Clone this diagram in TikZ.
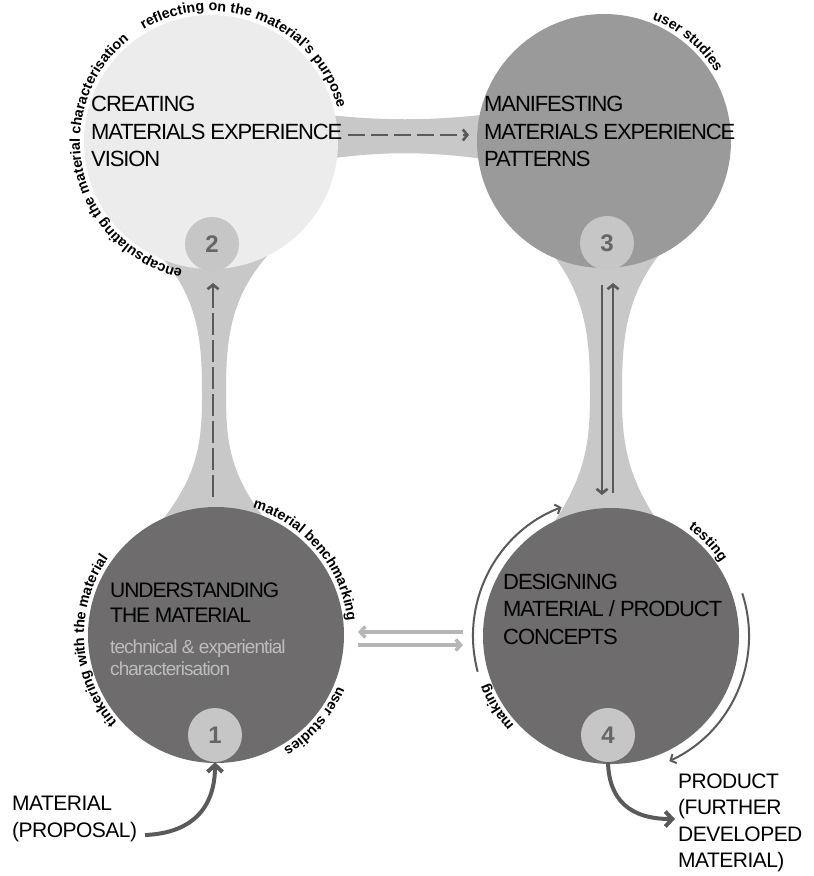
\documentclass[tikz,border=0pt]{standalone}
\usepackage{fontspec}
\setmainfont{Liberation Sans}
\newfontfamily\ttlfont[LetterSpace=-5]{Liberation Sans}
\newfontfamily\lblfont[LetterSpace=-2.5]{Liberation Sans}
\usetikzlibrary{arrows.meta,decorations.text}
\definecolor{neckc}{HTML}{C8C8C8}
\definecolor{lightc}{HTML}{ECECEC}
\definecolor{midc}{HTML}{9A9A9A}
\definecolor{darkc}{HTML}{6E6C6C}
\definecolor{numfill}{HTML}{C6C6C6}
\definecolor{numtext}{HTML}{666666}
\definecolor{arrowc}{HTML}{5A5A5A}
\definecolor{lightarr}{HTML}{B6B6B6}
\definecolor{subtext}{HTML}{BDBDBD}
\newcommand\cvfont{\fontsize{14.3}{15}\selectfont\bfseries}
\begin{document}
\begin{tikzpicture}[x=1pt,y=-1pt,
  bigc/.style={circle, inner sep=0pt, draw=none},
  numc/.style={circle, inner sep=0pt, minimum size=54pt, fill=numfill, text=numtext, font=\fontsize{24}{24}\selectfont\bfseries},
  ttl/.style={anchor=west, align=left, inner sep=0pt, text=black, font=\ttlfont\fontsize{22}{27.5}\selectfont},
  sub/.style={anchor=west, align=left, inner sep=0pt, text=subtext, font=\ttlfont\fontsize{19}{21.5}\selectfont},
  lbl/.style={anchor=west, align=left, inner sep=0pt, text=black, font=\lblfont\fontsize{21}{26.5}\selectfont},
  curved/.style={decorate, decoration={text along path, text align=center, text={|\cvfont|#1}}},
  darr/.style={draw=arrowc, line width=2.6pt, -{Straight Barb[length=4.5pt,width=11pt]}},
  thinarc/.style={draw=arrowc, line width=2pt, -{Straight Barb[length=4.5pt,width=10pt]}},
  thickarr/.style={draw=arrowc, line width=4pt, -{Straight Barb[length=7pt,width=15pt]}},
  grayarr/.style={draw=lightarr, line width=3.4pt, -{Straight Barb[length=5pt,width=11pt]}}
]
\fill[white] (0,0) rectangle (814,876);
\useasboundingbox (0,0) rectangle (814,876);

% necks
\fill[neckc] (160,255) .. controls (200,300) and (202,345) .. (202,395)
  .. controls (202,445) and (198,480) .. (150,535) -- (278,535)
  .. controls (230,480) and (226,445) .. (226,395)
  .. controls (226,345) and (228,300) .. (268,255) -- cycle;
\fill[neckc] (553,255) .. controls (588,300) and (590,345) .. (590,395)
  .. controls (590,445) and (585,480) .. (545,535) -- (667,535)
  .. controls (627,480) and (622,445) .. (622,395)
  .. controls (622,345) and (624,300) .. (659,255) -- cycle;
\fill[neckc] (320,114) .. controls (380,121) and (430,121) .. (490,114)
  -- (490,160) .. controls (430,151) and (380,151) .. (320,160) -- cycle;

% main circles
\node[bigc, fill=lightc, minimum size=254pt] (c2) at (211,142) {};
\node[bigc, fill=midc, minimum size=254pt] (c3) at (604,141) {};
\node[bigc, fill=darkc, minimum size=256pt] (c1) at (216,635) {};
\node[bigc, fill=darkc, minimum size=256pt] (c4) at (611,636) {};

% number circles
\node[numc] (n2) at (212,244) {2};
\node[numc] (n3) at (607,243) {3};
\node[numc] (n1) at (215,735) {1};
\node[numc] (n4) at (608,735) {4};

% titles
\node[ttl] (t2) at (91,131.5) {CREATING\\MATERIALS EXPERIENCE\\VISION};
\node[ttl] (t3) at (484,131.5) {MANIFESTING\\MATERIALS EXPERIENCE\\PATTERNS};
\node[ttl, font=\ttlfont\fontsize{21}{25}\selectfont] (t1) at (110,602.5) {UNDERSTANDING\\THE MATERIAL};
\node[sub] (s1) at (110,657.5) {technical \& experiential\\characterisation};
\node[ttl] (t4) at (503,609) {DESIGNING\\MATERIAL / PRODUCT\\CONCEPTS};

% outside labels
\node[lbl] (mat) at (12,819) {MATERIAL\\(PROPOSAL)};
\node[lbl] (prod) at (678,823) {PRODUCT\\(FURTHER\\DEVELOPED\\MATERIAL)};

% curved texts
\path[curved={reflecting on the material's purpose}] ([shift={(140:131pt)}]c2.center) arc[start angle=140, end angle=-4, radius=131pt];
\path[curved={encapsulating the material characterisation}] ([shift={(268:131pt)}]c2.center) arc[start angle=268, end angle=118, radius=131pt];
\path[curved={user studies}] ([shift={(90:131pt)}]c3.center) arc[start angle=90, end angle=10, radius=131pt];
\path[curved={tinkering with the material}] ([shift={(233:132pt)}]c1.center) arc[start angle=233, end angle=133, radius=132pt];
\path[curved={material benchmarking}] ([shift={(85:132pt)}]c1.center) arc[start angle=85, end angle=-5, radius=132pt];
\path[curved={user studies}] ([shift={(-6:132pt)}]c1.center) arc[start angle=-6, end angle=-76, radius=132pt];
\path[curved={testing}] ([shift={(69:132pt)}]c4.center) arc[start angle=69, end angle=19, radius=132pt];
\path[curved={making}] ([shift={(237:132pt)}]c4.center) arc[start angle=237, end angle=187, radius=132pt];

% coordinates for connectors
\coordinate (v1a) at (213,497);
\coordinate (v1b) at (213,283);
\coordinate (h2a) at (348,135);
\coordinate (h3b) at (469,135);
\coordinate (r3a) at (602,285);
\coordinate (r4a) at (602,495);
\coordinate (r4b) at (613,493);
\coordinate (r3b) at (613,283);
\coordinate (g4a) at (463,632);
\coordinate (g1a) at (358,632);
\coordinate (g1b) at (358,645);
\coordinate (g4b) at (463,645);
\coordinate (matstart) at (145,835);
\coordinate (prodtip) at (675,819);

% connectors
\draw[darr, dash pattern=on 22pt off 5pt] (v1a) -- (v1b);
\draw[darr, dash pattern=on 17pt off 6pt] (h2a) -- (h3b);
\draw[darr] (r3a) -- (r4a);
\draw[darr] (r4b) -- (r3b);
\draw[grayarr] (g4a) -- (g1a);
\draw[grayarr] (g1b) -- (g4b);
\draw[thickarr] (matstart) .. controls (195,833) and (215,805) .. (n1.south);
\draw[thickarr] (n4.south) .. controls (609,800) and (630,819) .. (prodtip);
\draw[thinarc] ([shift={(195:138pt)}]c4.center) arc[start angle=195, end angle=111, radius=138pt];
\draw[thinarc] ([shift={(18:138pt)}]c4.center) arc[start angle=18, end angle=-65, radius=138pt];
\end{tikzpicture}
\end{document}
